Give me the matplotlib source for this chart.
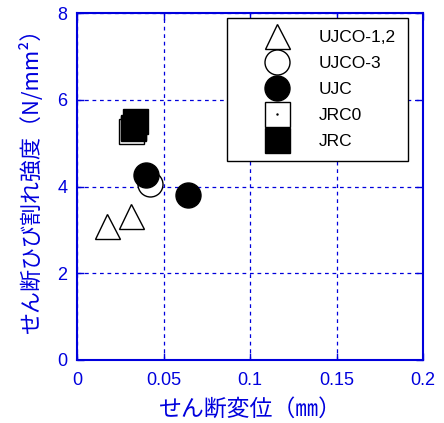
import matplotlib
matplotlib.use('Agg')
import matplotlib.pyplot as plt

plt.rcParams['font.family'] = ['Liberation Sans', 'Noto Sans CJK JP', 'DejaVu Sans']

BLUE = '#0000dd'

# series
ujco12_x = [0.017, 0.031]
ujco12_y = [3.10, 3.32]
ujco3_x = [0.042]
ujco3_y = [4.06]
ujc_x = [0.040, 0.064]
ujc_y = [4.27, 3.81]
jrc0_x = [0.031, 0.032]
jrc0_y = [5.28, 5.34]
jrc_x = [0.032, 0.0335]
jrc_y = [5.38, 5.52]

xticks = [0, 0.05, 0.1, 0.15, 0.2]
xticklabels = ['0', '0.05', '0.1', '0.15', '0.2']
yticks = [0, 2, 4, 6, 8]

fig = plt.figure(figsize=(4.44, 4.23), dpi=100)
ax = fig.add_axes([0.174, 0.149, 0.779, 0.820])

ms = 18
h1, = ax.plot(ujco12_x, ujco12_y, '^', ms=ms, mfc='white', mec='black', mew=1, ls='none')
h2, = ax.plot(ujco3_x, ujco3_y, 'o', ms=ms, mfc='white', mec='black', mew=1, ls='none')
h3, = ax.plot(ujc_x, ujc_y, 'o', ms=ms, mfc='black', mec='black', mew=1, ls='none')
h4, = ax.plot(jrc0_x, jrc0_y, 's', ms=ms, mfc='white', mec='black', mew=1, ls='none')
h4d, = ax.plot(jrc0_x, jrc0_y, '.', ms=1.5, color='black', ls='none')
h5, = ax.plot(jrc_x, jrc_y, 's', ms=ms, mfc='black', mec='black', mew=1, ls='none')

ax.set_xlim(0, 0.2)
ax.set_ylim(0, 8)
ax.set_xticks(xticks)
ax.set_xticklabels(xticklabels)
ax.set_yticks(yticks)
ax.grid(True, color=BLUE, ls=(0, (3, 3)), lw=0.9)
ax.set_axisbelow(True)
for s in ax.spines.values():
    s.set_color(BLUE)
    s.set_linewidth(1.5)
ax.tick_params(direction='in', length=5, width=1, color=BLUE, labelcolor=BLUE,
               labelsize=13, top=True, right=True)
ax.tick_params(axis='x', pad=9)
ax.tick_params(axis='y', pad=7)

ax.set_xlabel('せん断変位（㎜）', color=BLUE, fontsize=16.5,
              family=['Noto Sans CJK JP', 'DejaVu Sans'], labelpad=6)
ax.set_ylabel('せん断ひび割れ強度（N/mm²）', color=BLUE, fontsize=15.8,
              family=['Noto Sans CJK JP', 'DejaVu Sans'])
ax.yaxis.set_label_coords(-0.10, 0.53)

leg = ax.legend([h1, h2, h3, (h4, h4d), h5], ['UJCO-1,2', 'UJCO-3', 'UJC', 'JRC0', 'JRC'],
                loc='upper left', bbox_to_anchor=(0.433, 0.986), borderaxespad=0,
                fontsize=12.5, fancybox=False, framealpha=1, edgecolor='black',
                labelspacing=0.62, borderpad=0.7, handlelength=4.4, handletextpad=0.2)
leg.get_frame().set_linewidth(1)

fig.savefig('out.png', dpi=100)
